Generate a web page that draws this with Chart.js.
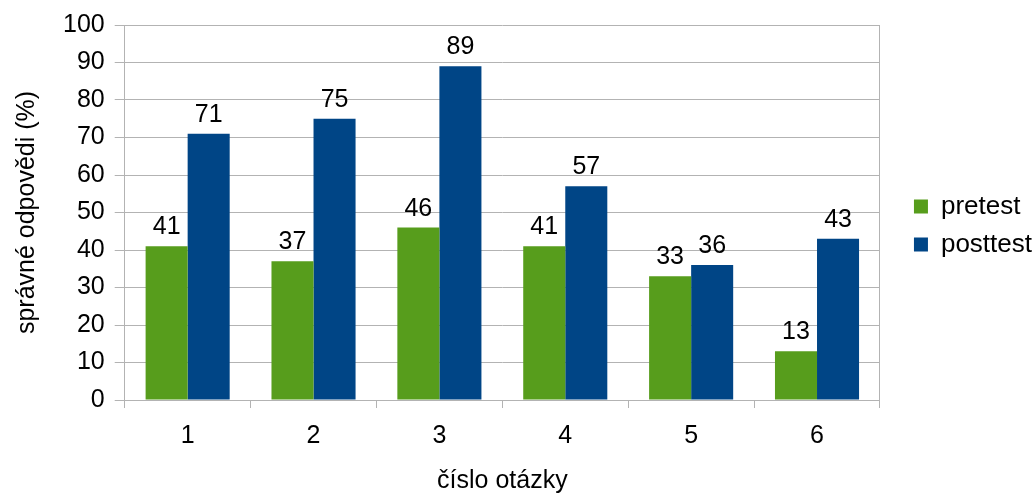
<!DOCTYPE html>
<html>
<head>
<meta charset="utf-8">
<script src="https://cdn.jsdelivr.net/npm/chart.js@4/dist/chart.umd.min.js"></script>
<style>
  html, body { margin: 0; padding: 0; background: #fff; }
  #wrap { width: 1036px; height: 496px; position: relative; }
</style>
</head>
<body>
<div id="wrap"><canvas id="chart"></canvas></div>
<script>
// data
const questions = ['1', '2', '3', '4', '5', '6'];
const pretest = [41, 37, 46, 41, 33, 13];
const posttest = [71, 75, 89, 57, 36, 43];
const yTicks = [0, 10, 20, 30, 40, 50, 60, 70, 80, 90, 100];

const FONT = "'Liberation Sans', Arial, sans-serif";
const GRID = '#b3b3b3';

// values written above each bar
const barValues = {
    id: 'barValues',
    afterDatasetsDraw(chart) {
        const ctx = chart.ctx;
        ctx.save();
        ctx.font = '25px ' + FONT;
        ctx.fillStyle = '#000';
        ctx.textAlign = 'center';
        ctx.textBaseline = 'alphabetic';
        chart.data.datasets.forEach(function(ds, i) {
            chart.getDatasetMeta(i).data.forEach(function(bar, j) {
                ctx.fillText(String(ds.data[j]), bar.x, bar.y - 12);
            });
        });
        ctx.restore();
    }
};

new Chart(document.getElementById('chart'), {
    type: 'bar',
    data: {
        labels: questions,
        datasets: [
            { label: 'pretest', data: pretest, backgroundColor: '#579d1c' },
            { label: 'posttest', data: posttest, backgroundColor: '#004586' }
        ]
    },
    options: {
        responsive: true,
        maintainAspectRatio: false,
        animation: false,
        layout: { padding: { left: 0, right: -6, top: 12, bottom: 0 } },
        datasets: {
            bar: { categoryPercentage: 0.668, barPercentage: 1 }
        },
        plugins: {
            legend: {
                position: 'right',
                align: 'center',
                fullSize: false,
                title: {
                    display: true,
                    text: ' ',
                    font: { family: FONT, size: 20 },
                    padding: { top: 1, bottom: 1 }
                },
                labels: {
                    color: '#000',
                    font: { family: FONT, size: 26 },
                    boxWidth: 14,
                    boxHeight: 14,
                    padding: 12
                }
            },
            tooltip: { enabled: false }
        },
        scales: {
            x: {
                offset: true,
                grid: {
                    offset: true,
                    drawOnChartArea: false,
                    drawTicks: true,
                    tickLength: 8,
                    color: GRID
                },
                border: { color: GRID },
                ticks: {
                    color: '#000',
                    font: { family: FONT, size: 25 },
                    padding: 13
                },
                title: {
                    display: true,
                    text: 'číslo otázky',
                    color: '#000',
                    font: { family: FONT, size: 25 },
                    padding: { top: 2, bottom: 0 }
                }
            },
            y: {
                min: 0,
                max: 100,
                afterBuildTicks(axis) {
                    axis.ticks = yTicks.map(function(v) { return { value: v }; });
                },
                grid: {
                    color: GRID,
                    tickLength: 10
                },
                border: { color: GRID },
                ticks: {
                    color: '#000',
                    font: { family: FONT, size: 25 },
                    padding: 10
                },
                title: {
                    display: true,
                    text: 'správné odpovědi (%)',
                    color: '#000',
                    font: { family: FONT, size: 25 },
                    padding: { top: 12, bottom: 11 }
                }
            },
            // empty right axis: gives the plot its right border and the gap before the legend
            yRight: {
                position: 'right',
                min: 0,
                max: 100,
                grid: { drawOnChartArea: false, drawTicks: false },
                border: { color: GRID },
                ticks: { display: false },
                afterFit(axis) { axis.width = 22; }
            }
        }
    },
    plugins: [barValues]
});
</script>
</body>
</html>
